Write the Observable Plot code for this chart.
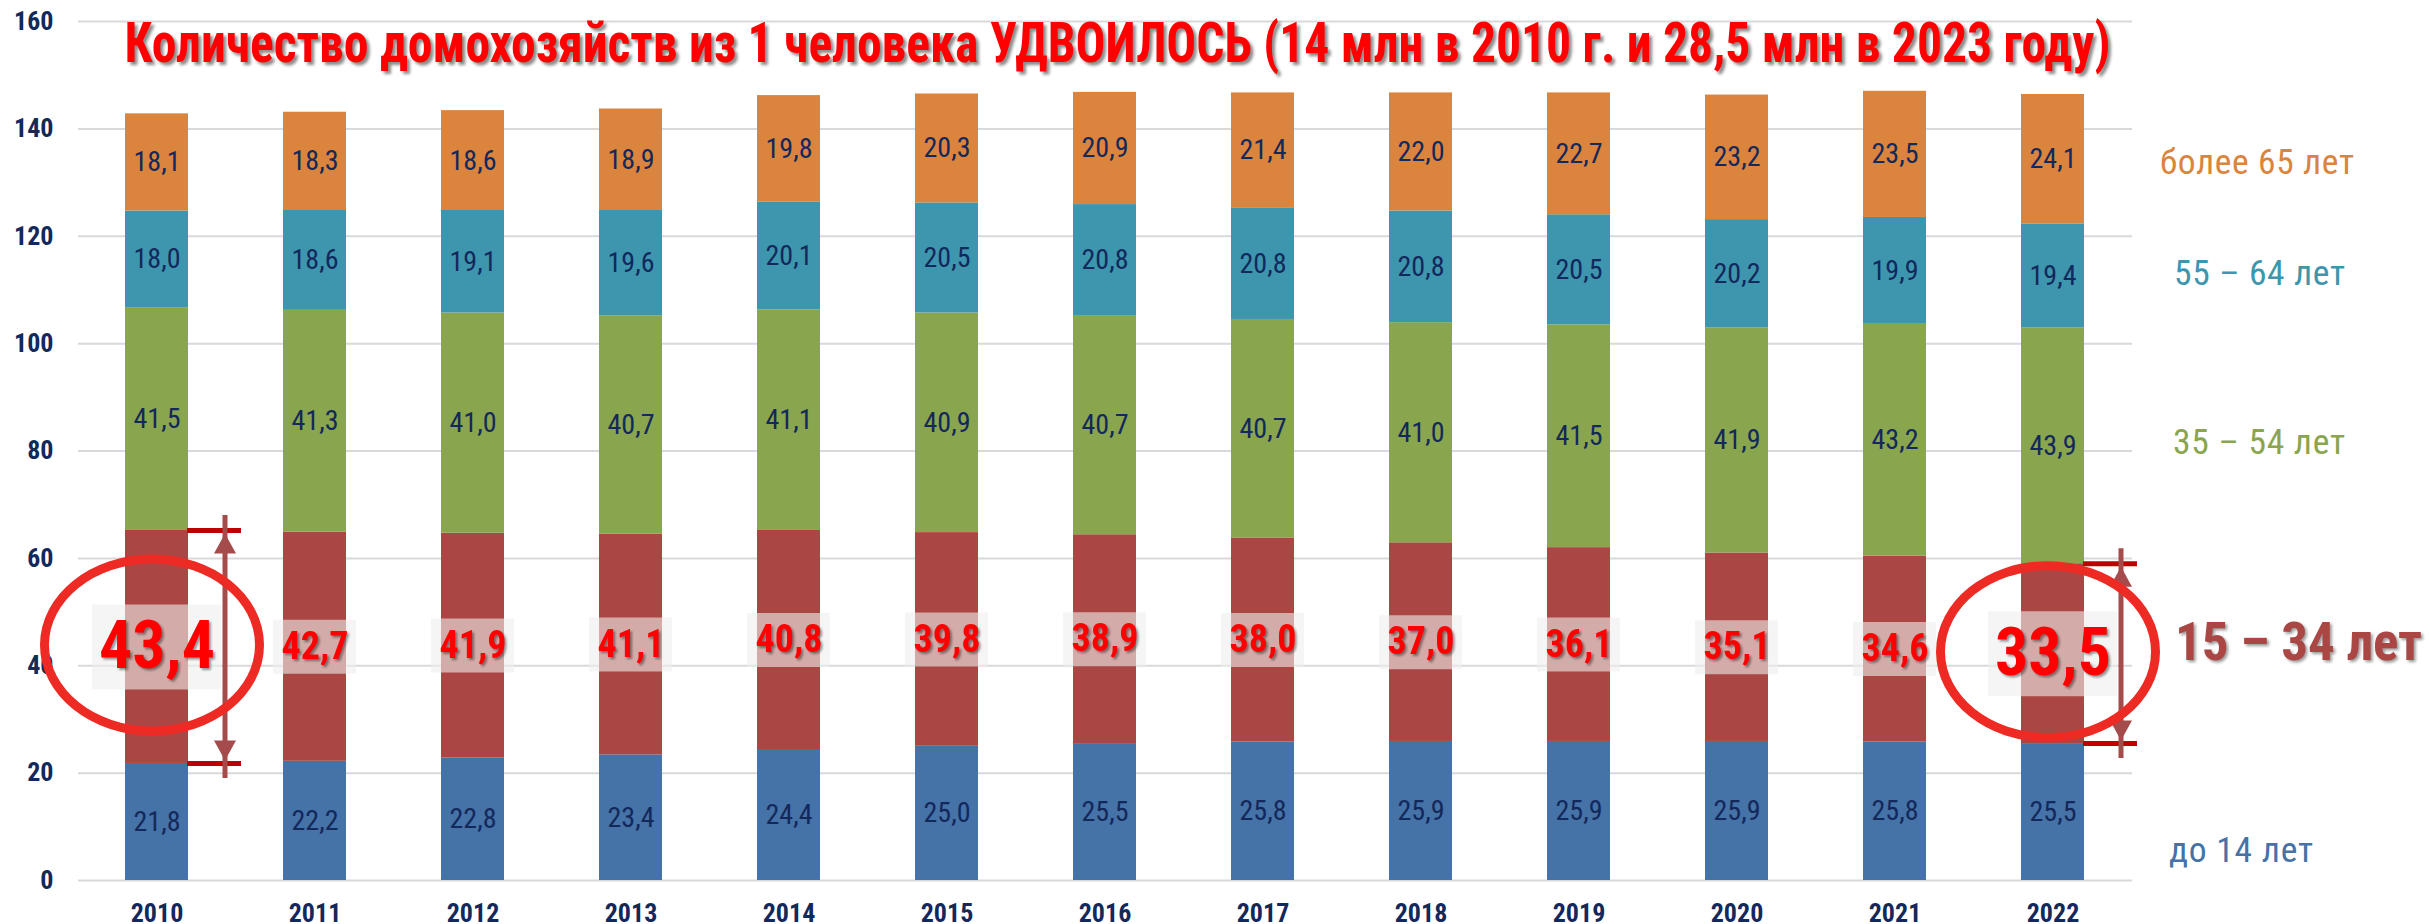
<!DOCTYPE html>
<html><head><meta charset="utf-8">
<script src="https://cdn.jsdelivr.net/npm/d3@7"></script>
<script src="https://cdn.jsdelivr.net/npm/@observablehq/plot@0.6"></script>
<style>
html,body{margin:0;padding:0;background:#fff;}
#chart svg{display:block;}
</style></head>
<body><div id="chart"></div>
<script>
const years = ["2010","2011","2012","2013","2014","2015","2016","2017","2018","2019","2020","2021","2022"];
const seriesNames = ["до 14 лет","15 – 34 лет","35 – 54 лет","55 – 64 лет","более 65 лет"];
const seriesColors = ["#4572A7","#AA4643","#89A54E","#3D96AE","#DB843D"];
const age0_14  = [21.8,22.2,22.8,23.4,24.4,25.0,25.5,25.8,25.9,25.9,25.9,25.8,25.5];
const age15_34 = [43.4,42.7,41.9,41.1,40.8,39.8,38.9,38.0,37.0,36.1,35.1,34.6,33.5];
const age35_54 = [41.5,41.3,41.0,40.7,41.1,40.9,40.7,40.7,41.0,41.5,41.9,43.2,43.9];
const age55_64 = [18.0,18.6,19.1,19.6,20.1,20.5,20.8,20.8,20.8,20.5,20.2,19.9,19.4];
const age65    = [18.1,18.3,18.6,18.9,19.8,20.3,20.9,21.4,22.0,22.7,23.2,23.5,24.1];
const yTicks = [0,20,40,60,80,100,120,140,160];
const titleText = "Количество домохозяйств из 1 человека УДВОИЛОСЬ (14 млн в 2010 г. и 28,5 млн в 2023 году)";
const highlightYears = ["2010","2022"];

const seriesValues = [age0_14, age15_34, age35_54, age55_64, age65];
const data = [];
seriesNames.forEach((s, si) => years.forEach((y, yi) => data.push({year: y, series: s, value: seriesValues[si][yi]})));
const fmt = v => v.toFixed(1).replace(".", ",");
const RED = seriesNames[1];

// red segment info
const redInfo = years.map((y, i) => ({year: y, bottom: age0_14[i], top: age0_14[i] + age15_34[i],
  mid: age0_14[i] + age15_34[i] / 2, value: age15_34[i], big: highlightYears.includes(y)}));
const bigRed = redInfo.filter(d => d.big);
const smallRed = redInfo.filter(d => !d.big);

// legend entries anchored at last year's segment centers
const last = years.length - 1;
let acc = 0;
const legend = seriesNames.map((s, si) => { const v = seriesValues[si][last]; const m = acc + v / 2; acc += v;
  return {name: s, color: seriesColors[si], year: years[last], mid: m}; });
const legendDx = [116, 122, 120, 121, 107];
const legendDy = [39, -11, -3, -2, 3];
const legendWidth = [144, 247, 172, 171, 194];

const ellipseSymbol = {draw(ctx, size) {
  const ry = Math.sqrt(size / Math.PI), rx = ry * 1.25, k = 0.5523;
  ctx.moveTo(rx, 0);
  ctx.bezierCurveTo(rx, k*ry, k*rx, ry, 0, ry);
  ctx.bezierCurveTo(-k*rx, ry, -rx, k*ry, -rx, 0);
  ctx.bezierCurveTo(-rx, -k*ry, -k*rx, -ry, 0, -ry);
  ctx.bezierCurveTo(k*rx, -ry, rx, -k*ry, rx, 0);
  ctx.closePath();
}};
const triUp = {draw(ctx) { ctx.moveTo(0,0); ctx.lineTo(11,20); ctx.lineTo(-11,20); ctx.closePath(); }};
const triDown = {draw(ctx) { ctx.moveTo(0,0); ctx.lineTo(11,-20); ctx.lineTo(-11,-20); ctx.closePath(); }};

const FONT = "'Roboto Condensed', 'Liberation Sans Narrow', 'DejaVu Sans Condensed', sans-serif";
const NAVY = "#13285B";

const legendMarks = legend.map((d, i) => Plot.text([d], {x: "year", y: "mid", text: "name", fill: d.color,
  fontSize: d.name === RED ? 53 : 35.5, fontWeight: d.name === RED ? "bold" : "normal",
  textAnchor: "start", dx: legendDx[i], dy: legendDy[i]}));

const chart = Plot.plot({
  width: 2430, height: 924,
  marginLeft: 78, marginRight: 298, marginTop: 21, marginBottom: 44,
  style: {fontFamily: FONT, color: NAVY, background: "white", overflow: "visible"},
  x: {domain: years, paddingInner: 0.6, paddingOuter: 0.3, label: null},
  y: {domain: [0, 160], label: null},
  color: {domain: seriesNames, range: seriesColors},
  marks: [
    Plot.gridY(yTicks, {stroke: "#D9D9D9", strokeOpacity: 1, strokeWidth: 2}),
    Plot.axisY({ticks: yTicks, tickSize: 0, tickPadding: 25, fontSize: 26, fontWeight: "bold", label: null}),
    Plot.axisX({tickSize: 0, tickPadding: 23, fontSize: 26, fontWeight: "bold", label: null}),
    Plot.barY(data, {x: "year", y: "value", fill: "series", order: seriesNames}),
    Plot.text(data, Plot.stackY({x: "year", y: "value", z: "series", order: seriesNames,
      text: d => d.series === RED ? "" : fmt(d.value), fill: NAVY, fontSize: 28})),
    // label boxes
    Plot.tickY(smallRed, {x: "year", y: "mid", stroke: "#eeeeee", strokeOpacity: 0.6, strokeWidth: 54, insetLeft: -10, insetRight: -10}),
    Plot.tickY(bigRed, {x: "year", y: "mid", stroke: "#eeeeee", strokeOpacity: 0.6, strokeWidth: 85, insetLeft: -33, insetRight: -33}),
    // arrows
    Plot.tickY(bigRed, {x: "year", y: "top", stroke: "#C00000", strokeWidth: 5, dx: 58, insetLeft: 4, insetRight: 5}),
    Plot.tickY(bigRed, {x: "year", y: "bottom", stroke: "#C00000", strokeWidth: 5, dx: 58, insetLeft: 4, insetRight: 5}),
    Plot.ruleX(bigRed, {x: "year", y1: "bottom", y2: "top", stroke: "#A64B4B", strokeWidth: 5, dx: 68, insetTop: 15, insetBottom: 15}),
    Plot.dot(bigRed, {x: "year", y: "top", symbol: triUp, fill: "#A64B4B", stroke: "none", r: 5, dx: 68, dy: 3}),
    Plot.dot(bigRed, {x: "year", y: "bottom", symbol: triDown, fill: "#A64B4B", stroke: "none", r: 5, dx: 68, dy: -3}),
    // red value labels
    Plot.text(smallRed, {x: "year", y: "mid", text: d => fmt(d.value), fill: "#FF0000", fontSize: 38, fontWeight: "bold"}),
    Plot.text(bigRed, {x: "year", y: "mid", text: d => fmt(d.value), fill: "#FF0000", fontSize: 66, fontWeight: "bold"}),
    // ellipses
    Plot.dot(bigRed, {x: "year", y: "mid", symbol: ellipseSymbol, r: 86, fill: "none", stroke: "#EE2A24", strokeWidth: 9, dx: -5, dy: -2}),
    // legend
    ...legendMarks,
    // title
    Plot.text([titleText], {frameAnchor: "top", dx: 12, dy: 1, fill: "#FF0000", fontSize: 56, fontWeight: "bold",
      fontFamily: "'Liberation Sans Narrow', 'Roboto Condensed', sans-serif"})
  ]
});
document.getElementById("chart").appendChild(chart);

// drop shadows, title width, legend spacing
const redTexts = new Set(redInfo.map(d => fmt(d.value)));
d3.select(chart).selectAll("text").each(function() {
  const t = this.textContent;
  const li = seriesNames.indexOf(t);
  if (t === titleText) {
    this.setAttribute("textLength", 1986);
    this.setAttribute("lengthAdjust", "spacingAndGlyphs");
    this.style.filter = "drop-shadow(3px 3px 1.5px rgba(0,0,0,0.45))";
  } else if (li >= 0) {
    this.setAttribute("textLength", legendWidth[li]);
    this.setAttribute("lengthAdjust", "spacing");
    if (t === RED) this.style.filter = "drop-shadow(2px 2px 1.5px rgba(0,0,0,0.4))";
  } else if (redTexts.has(t) && this.closest("g").getAttribute("fill") === "#FF0000") {
    this.style.filter = "drop-shadow(2px 2px 1.2px rgba(0,0,0,0.4))";
  }
});
</script>
</body></html>
